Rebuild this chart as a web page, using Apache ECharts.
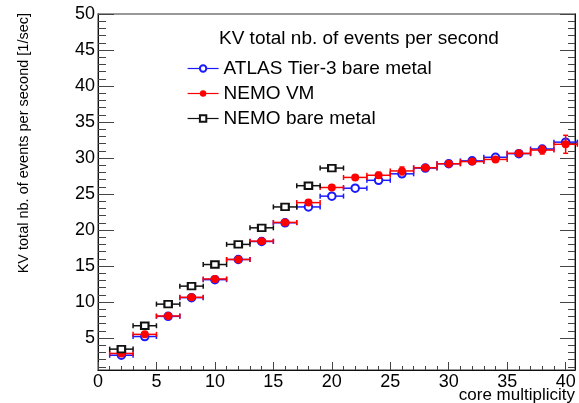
<!DOCTYPE html>
<html>
<head>
<meta charset="utf-8">
<title>KV total nb. of events per second</title>
<script src="https://cdn.jsdelivr.net/npm/echarts@6/dist/echarts.min.js"></script>
<style>
  html, body { margin: 0; padding: 0; background: #fff; }
  #chart { width: 579px; height: 403px; }
</style>
</head>
<body>
<div id="chart"></div>
<script>
// core multiplicity on x, events per second on y
var multiplicity = [2, 4, 6, 8, 10, 12, 14, 16, 18, 20, 22, 24, 26, 28, 30, 32, 34, 36, 38, 40];
var atlasRate = [2.6, 5.2, 8.0, 10.6, 13.1, 15.9, 18.4, 21.0, 23.2, 24.7, 25.8, 26.9, 27.8, 28.6, 29.2, 29.6, 30.1, 30.6, 31.25, 32.2];
var atlasErr = [0, 0, 0, 0, 0, 0, 0, 0, 0, 0, 0, 0, 0, 0, 0, 0, 0, 0, 0, 0];
var nemoVmRate = [2.85, 5.5, 8.05, 10.65, 13.2, 15.9, 18.45, 21.05, 23.8, 25.9, 27.3, 27.6, 28.2, 28.65, 29.2, 29.5, 29.8, 30.65, 31.1, 31.9];
var nemoVmErr = [0, 0, 0, 0, 0, 0, 0, 0, 0, 0, 0, 0.4, 0.55, 0, 0, 0, 0, 0, 0.55, 1.25];
var bareMultiplicity = [2, 4, 6, 8, 10, 12, 14, 16, 18, 20];
var nemoBareRate = [3.45, 6.7, 9.7, 12.2, 15.2, 18.0, 20.3, 23.2, 26.15, 28.6];
var binHalfWidth = 1;

var xMajorTicks = [0, 5, 10, 15, 20, 25, 30, 35, 40];
var yMajorTicks = [5, 10, 15, 20, 25, 30, 35, 40, 45, 50];
var xMin = 0, xMax = 40.8, yMin = 0.55, yMax = 50;

var xMinorTicks = [];
for (var i = 1; i <= 40; i++) if (i % 5) xMinorTicks.push(i);
var yMinorTicks = [];
for (var j = 1; j <= 49; j++) if (j % 5) yMinorTicks.push(j);

var FONT = '"Liberation Sans", Arial, Helvetica, sans-serif';
var BLUE = '#1a1aff', RED = '#ff0000', BLACK = '#111111';

function points(xs, ys) {
  return xs.map(function (x, k) { return [x, ys[k]]; });
}
function bars(xs, ys, errs) {
  return xs.map(function (x, k) { return [x, ys[k], binHalfWidth, errs ? errs[k] : 0]; });
}

function errorBars(color) {
  return function (params, api) {
    var x = api.value(0), y = api.value(1), ex = api.value(2), ey = api.value(3);
    var l = api.coord([x - ex, y]);
    var r = api.coord([x + ex, y]);
    var cap = 2.5;
    var st = { stroke: color, lineWidth: 1.5 };
    var kids = [
      { type: 'line', shape: { x1: l[0], y1: l[1], x2: r[0], y2: r[1] }, style: st },
      { type: 'line', shape: { x1: l[0], y1: l[1] - cap, x2: l[0], y2: l[1] + cap }, style: st },
      { type: 'line', shape: { x1: r[0], y1: r[1] - cap, x2: r[0], y2: r[1] + cap }, style: st }
    ];
    if (ey > 0) {
      var t = api.coord([x, y + ey]);
      var b = api.coord([x, y - ey]);
      kids.push({ type: 'line', shape: { x1: t[0], y1: t[1], x2: b[0], y2: b[1] }, style: st });
      kids.push({ type: 'line', shape: { x1: t[0] - cap, y1: t[1], x2: t[0] + cap, y2: t[1] }, style: st });
      kids.push({ type: 'line', shape: { x1: b[0] - cap, y1: b[1], x2: b[0] + cap, y2: b[1] }, style: st });
    }
    return { type: 'group', children: kids };
  };
}

function tickAxis(pos, values, len, withLine, extra) {
  var a = {
    type: 'value',
    position: pos,
    axisLine: { show: withLine, onZero: false, lineStyle: { color: BLACK, width: 1 } },
    axisTick: { show: true, inside: true, length: len, customValues: values, lineStyle: { color: '#444', width: 1 } },
    axisLabel: { show: false },
    splitLine: { show: false }
  };
  return Object.assign(a, extra);
}

var chart = echarts.init(document.getElementById('chart'));
chart.setOption({
  animation: false,
  backgroundColor: '#fff',
  textStyle: { fontFamily: FONT },
  grid: {
    left: 98, right: 4, top: 14, bottom: 33,
    show: true, borderColor: '#777', borderWidth: 1.5,
    outerBoundsMode: 'none'
  },
  xAxis: [
    tickAxis('bottom', xMajorTicks, 8, true, {
      min: xMin, max: xMax,
      axisLabel: { show: true, customValues: xMajorTicks, fontSize: 18, color: '#000', margin: 3, fontFamily: FONT }
    }),
    tickAxis('bottom', xMinorTicks, 4, false, { min: xMin, max: xMax })
  ],
  yAxis: [
    tickAxis('left', yMajorTicks, 16, true, {
      min: yMin, max: yMax,
      axisLabel: { show: true, customValues: yMajorTicks, fontSize: 18, color: '#000', margin: 3, fontFamily: FONT }
    }),
    tickAxis('left', yMinorTicks, 8, false, { min: yMin, max: yMax }),
    tickAxis('right', yMajorTicks, 15, true, { min: yMin, max: yMax }),
    tickAxis('right', yMinorTicks, 7, false, { min: yMin, max: yMax })
  ],
  legend: {
    orient: 'vertical',
    left: 182, top: 54,
    itemWidth: 31, itemHeight: 8, itemGap: 6,
    selectedMode: false,
    data: ['ATLAS Tier-3 bare metal', 'NEMO VM', 'NEMO bare metal'],
    lineStyle: { width: 1.2, opacity: 1 },
    textStyle: { fontSize: 19, lineHeight: 19, color: '#000', fontFamily: FONT }
  },
  graphic: [
    { type: 'text', x: 219, y: 39, style: { text: 'KV total nb. of events per second', font: '19px ' + FONT, fill: '#000', align: 'left', verticalAlign: 'middle' } },
    { type: 'text', x: 24, y: 13, rotation: Math.PI / 2, style: { text: 'KV total nb. of events per second [1/sec]', font: '14.5px ' + FONT, fill: '#000', align: 'right', verticalAlign: 'middle' } },
    { type: 'text', x: 575, y: 404, style: { text: 'core multiplicity', font: '17px ' + FONT, fill: '#000', align: 'right', verticalAlign: 'bottom' } }
  ],
  series: [
    { type: 'custom', name: 'atlas-err', z: 2, silent: true, renderItem: errorBars(BLUE), encode: { x: 0, y: 1 }, data: bars(multiplicity, atlasRate, atlasErr) },
    {
      type: 'line', name: 'ATLAS Tier-3 bare metal', z: 3, color: BLUE,
      symbol: 'emptyCircle', symbolSize: 7.5, showSymbol: true,
      itemStyle: { color: BLUE, borderWidth: 1.5 }, lineStyle: { width: 0 },
      data: points(multiplicity, atlasRate)
    },
    { type: 'custom', name: 'vm-err', z: 4, silent: true, renderItem: errorBars(RED), encode: { x: 0, y: 1 }, data: bars(multiplicity, nemoVmRate, nemoVmErr) },
    {
      type: 'line', name: 'NEMO VM', z: 5, color: RED,
      symbol: 'circle', symbolSize: 8, showSymbol: true,
      itemStyle: { color: RED }, lineStyle: { width: 0 },
      data: points(multiplicity, nemoVmRate)
    },
    { type: 'custom', name: 'bare-err', z: 6, silent: true, renderItem: errorBars(BLACK), encode: { x: 0, y: 1 }, data: bars(bareMultiplicity, nemoBareRate, null) },
    {
      type: 'line', name: 'NEMO bare metal', z: 7, color: BLACK,
      symbol: 'emptyRect', symbolSize: [7.5, 6.5], showSymbol: true,
      itemStyle: { color: BLACK, borderWidth: 1.2 }, lineStyle: { width: 0 },
      data: points(bareMultiplicity, nemoBareRate)
    }
  ]
});
</script>
</body>
</html>
